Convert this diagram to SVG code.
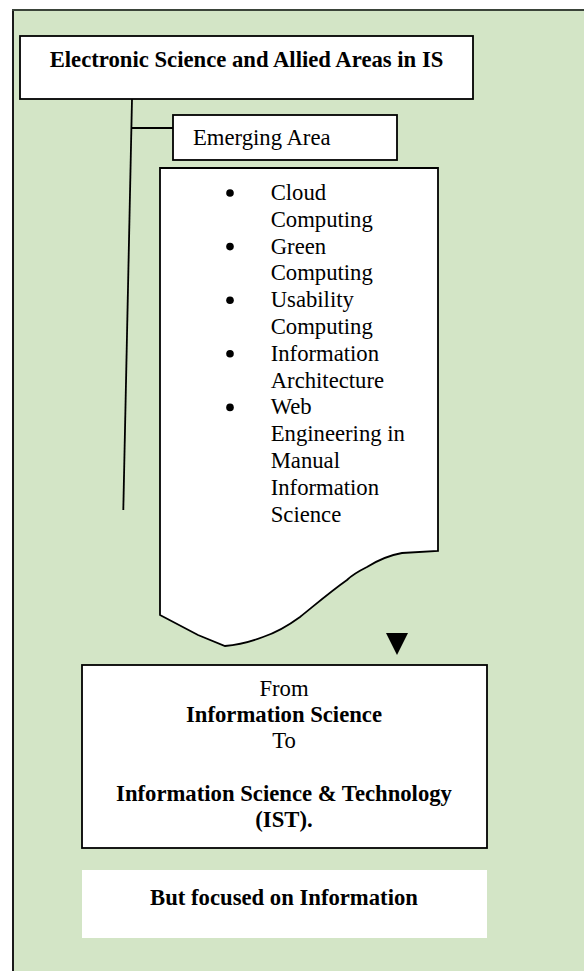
<svg xmlns="http://www.w3.org/2000/svg" width="584" height="971" viewBox="0 0 584 971">
<style>
.box{fill:#fff;stroke:#000;stroke-width:1.8}
.t{font-family:"Liberation Serif","Times New Roman",serif;font-size:22.7px;fill:#000}
.b{font-weight:bold}
.c{text-anchor:middle}
.ln{stroke:#000;stroke-width:1.8;fill:none}
</style>
<rect x="0" y="0" width="584" height="971" fill="#fff"/>
<g id="frame">
<rect x="13" y="10" width="580" height="970" fill="#d3e5c6"/>
<line x1="13" y1="10" x2="13" y2="971" stroke="#1a1a1a" stroke-width="2"/>
<line x1="12" y1="10" x2="584" y2="10" stroke="#3a4339" stroke-width="2"/>
</g>
<g id="connectors">
<line class="ln" x1="132" y1="99" x2="123.3" y2="510"/>
<line class="ln" x1="131.5" y1="128" x2="173" y2="128"/>
<polygon points="386,633 408,633 397,655" fill="#000"/>
</g>
<g id="title">
<rect class="box" x="20" y="36" width="453" height="63"/>
<text class="t b c" x="246.5" y="66.7">Electronic Science and Allied Areas in IS</text>
</g>
<g id="emerging">
<rect class="box" x="173" y="115" width="224" height="45"/>
<text class="t" x="193" y="145">Emerging Area</text>
</g>
<g id="list">
<path class="box" d="M160,168 L438,168 L438,551 L402,553 C385,556 375,562 367,567 C355,573 350,577 347,580 C330,592 315,605 300,617 C285,628 275,633 263,637 C250,642 238,645 225,646 L198,635 L160,615 Z"/>
<g class="t">
<circle cx="230" cy="193" r="3.8"/>
<circle cx="230" cy="246.6" r="3.8"/>
<circle cx="230" cy="300.2" r="3.8"/>
<circle cx="230" cy="353.8" r="3.8"/>
<circle cx="230" cy="407.4" r="3.8"/>
<text x="270.7" y="200">Cloud</text>
<text x="270.7" y="226.8">Computing</text>
<text x="270.7" y="253.6">Green</text>
<text x="270.7" y="280.4">Computing</text>
<text x="270.7" y="307.2">Usability</text>
<text x="270.7" y="334">Computing</text>
<text x="270.7" y="360.8">Information</text>
<text x="270.7" y="387.6">Architecture</text>
<text x="270.7" y="414.4">Web</text>
<text x="270.7" y="441.2">Engineering in</text>
<text x="270.7" y="468">Manual</text>
<text x="270.7" y="494.8">Information</text>
<text x="270.7" y="521.6">Science</text>
</g>
</g>
<g id="ist">
<rect class="box" x="82" y="665" width="405" height="183"/>
<text class="t c" x="284" y="696">From</text>
<text class="t b c" x="284" y="722">Information Science</text>
<text class="t c" x="284" y="748">To</text>
<text class="t b c" x="284" y="800.7">Information Science &amp; Technology</text>
<text class="t b c" x="284" y="826.7">(IST).</text>
</g>
<g id="focus">
<rect x="82" y="870" width="405" height="68" fill="#fff"/>
<text class="t b c" x="284" y="905">But focused on Information</text>
</g>
</svg>
